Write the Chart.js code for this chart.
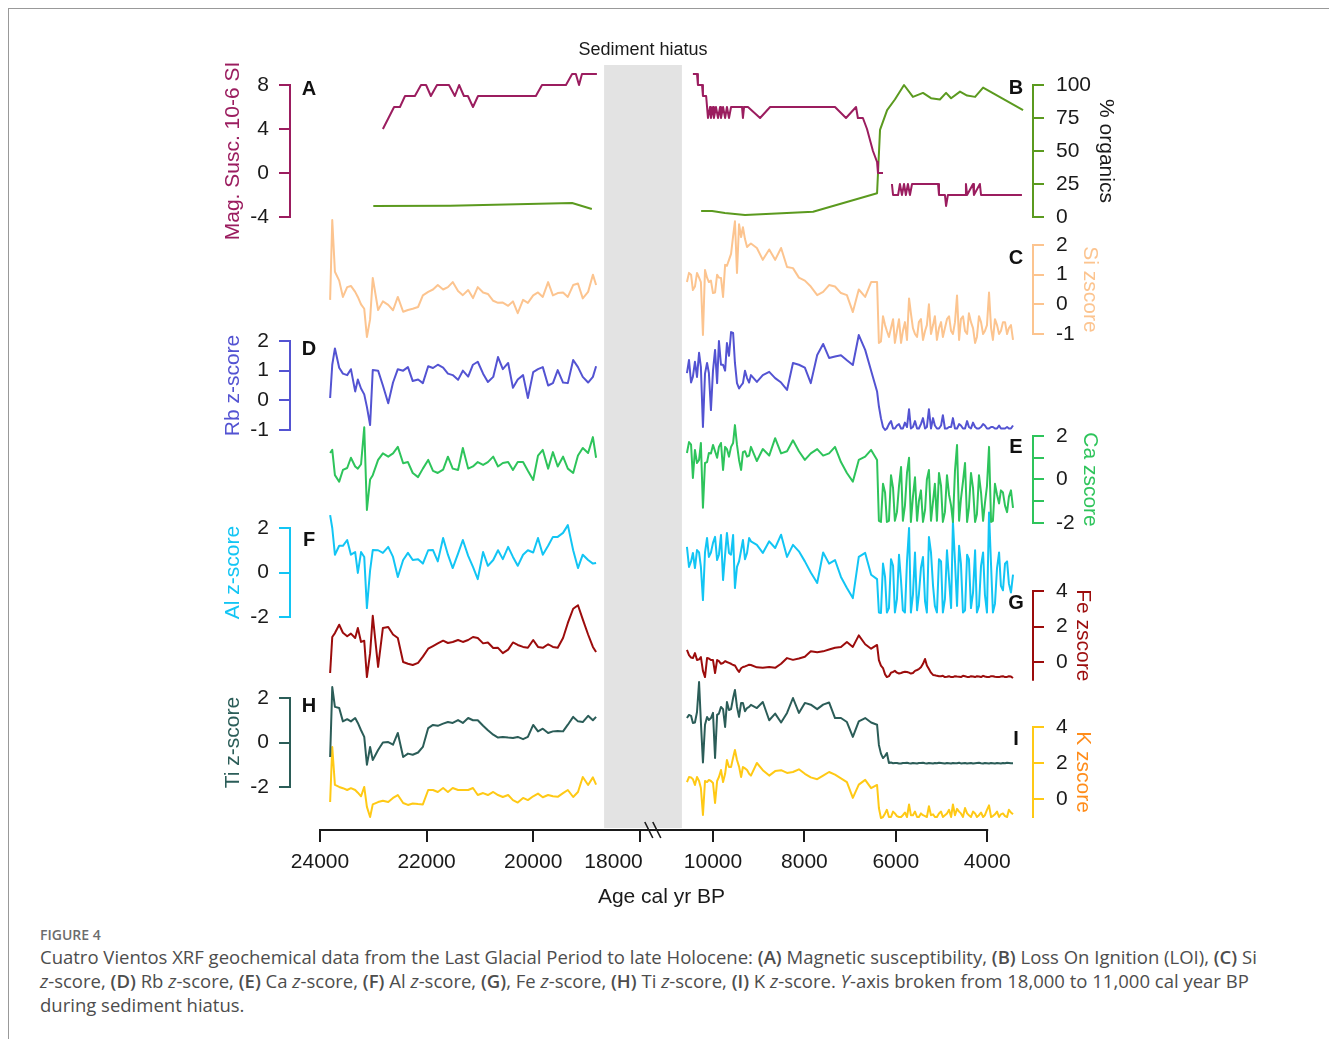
<!DOCTYPE html>
<html>
<head>
<meta charset="utf-8">
<title>Cuatro Vientos XRF</title>
<script src="https://cdn.jsdelivr.net/npm/chart.js@4.4.1/dist/chart.umd.min.js"></script>
<style>
  html, body { margin: 0; padding: 0; background: #fff; }
  #page { position: relative; width: 1329px; height: 1039px; overflow: hidden; }
  #frame { position: absolute; left: 8px; top: 8px; right: 0; bottom: 0; border-top: 1px solid #999; border-left: 1px solid #999; }
  #chart { position: absolute; left: 0; top: 0; }
  #figlabel { position: absolute; left: 40px; top: 925px; font: 600 14px 'Open Sans', sans-serif; color: #6d6d6d; }
  #caption { position: absolute; left: 40px; top: 945px; font: 18.5px/24px 'Open Sans', sans-serif; color: #4d4d4d; white-space: nowrap; }
  #caption b { font-weight: 600; }
</style>
</head>
<body>
<div id="page">
  <div id="frame"></div>
  <canvas id="chart" width="1329" height="920"></canvas>
  <div id="figlabel">FIGURE 4</div>
  <div id="caption">Cuatro Vientos XRF geochemical data from the Last Glacial Period to late Holocene: <b>(A)</b> Magnetic susceptibility, <b>(B)</b> Loss On Ignition (LOI), <b>(C)</b> Si<br><i>z</i>-score, <b>(D)</b> Rb <i>z</i>-score, <b>(E)</b> Ca <i>z</i>-score, <b>(F)</b> Al <i>z</i>-score, <b>(G)</b>, Fe <i>z</i>-score, <b>(H)</b> Ti <i>z</i>-score, <b>(I)</b> K <i>z</i>-score. <i>Y</i>-axis broken from 18,000 to 11,000 cal year BP<br>during sediment hiatus.</div>
</div>
<script>
const FONT = "'Liberation Sans', Arial, sans-serif"

// x axis (age cal yr BP), broken between 18000 and 10000
const xTickAges = [24000, 22000, 20000, 18000, 10000, 8000, 6000, 4000]
const xTickLabels = ['24000', '22000', '20000', '18000         ', '10000', '8000', '6000', '4000']
const hiatusAges = [18670, 10680]

// tick values of each panel axis
const magTicks = [8, 4, 0, -4]
const loiTicks = [100, 75, 50, 25, 0]
const siTicks = [2, 1, 0, -1]
const rbTicks = [2, 1, 0, -1]
const caTicks = [2, 1, 0, -1, -2]
const caLabels = [2, 0, -2]
const alTicks = [2, 0, -2]
const feTicks = [4, 2, 0]
const tiTicks = [2, 0, -2]
const kTicks = [4, 2, 0]

// A - magnetic susceptibility (null = break)
const magAge = [22820, 22610, 22500, 22405, 22220, 22105, 22010, 21920, 21805, 21580, 21470, 21390, 21300, 21225, 21130, 21035, 19950, 19835, 19385, 19270, 19200, 19140, 19085, 18805,
  18000,
  10440, 10350, 10330, 10240, 10220, 10150, 10110, 10065, 10045, 10000, 9980, 9935, 9890, 9845, 9825, 9780, 9735, 9695, 9650, 9605, 9560, 9365, 9345, 9320, 9235, 8970, 8750, 7330, 7090, 6870, 6830, 6720, 6630, 6565, 6500, 6410, 6390, 6280,
  6180,
  6085, 6060, 5950, 5910, 5865, 5820, 5780, 5735, 5690, 5645, 5075, 5055, 4925, 4900, 4880, 4860, 4485, 4465, 4440, 4310, 4290, 4160, 4135, 3240]
const magVal = [4, 6, 6, 7, 7, 8, 8, 7, 8, 8, 7, 8, 7, 7, 6, 7, 7, 8, 8, 9, 9, 8, 9, 9,
  null,
  9, 9, 8, 8, 7, 7, 5, 6, 5, 6, 5, 6, 5, 6, 5, 6, 5, 6, 5, 6, 6, 6, 5, 6, 6, 5, 6, 6, 5, 6, 5, 5, 4, 3, 2, 1, 0, 0,
  null,
  -1, -2, -2, -1, -2, -1, -2, -1, -2, -1, -1, -2, -2, -3, -3, -2, -2, -1, -2, -1, -2, -1, -2, -2]

// B - loss on ignition, % organics
const loiAge = [23000, 21560, 19270, 18900, 18000, 10260, 10020, 9740, 9300, 7810, 6410, 6345, 6190, 6020, 5820, 5625, 5405, 5230, 5035, 4900, 4790, 4595, 4440, 4265, 4090, 3215]
const loiVal = [8.3, 8.5, 10.6, 6, null, 4.5, 4.5, 3, 1.5, 4, 18, 66, 81, 89, 100, 91, 94, 90, 89, 94, 90, 95, 92, 91, 98, 81]

// XRF sample ages, before and after the hiatus
const ageOld = [23810, 23770, 23720, 23640, 23570, 23490, 23420, 23340, 23290, 23230, 23170, 23120, 23060, 23010, 22910, 22820, 22720, 22630, 22540, 22440,
  22350, 22260, 22160, 22070, 21970, 21880, 21790, 21690, 21600, 21510, 21410, 21320, 21220, 21130, 21040, 20940, 20850, 20750, 20660, 20570,
  20470, 20380, 20290, 20190, 20100, 20000, 19910, 19820, 19720, 19630, 19540, 19440, 19350, 19250, 19160, 19070, 18970, 18880, 18820]
const ageNew = [
  10570, 10525, 10480, 10440, 10395, 10350, 10305, 10265, 10220, 10175, 10130, 10090, 10045, 10000, 9955, 9910, 9870,
  9825, 9780, 9735, 9695, 9650, 9605, 9560, 9520, 9475, 9430, 9385, 9345, 9300, 9255, 9210, 9170,
  9040, 8910, 8770, 8640, 8510, 8380, 8250, 8120, 7990, 7860, 7720, 7590, 7460, 7330, 7200, 7070, 6940, 6810, 6670, 6540,
  6410, 6370, 6325, 6280, 6235, 6195, 6150, 6105, 6060, 6020, 5975, 5930, 5885, 5845, 5800, 5755, 5710, 5670, 5625, 5580,
  5535, 5495, 5450, 5405, 5360, 5320, 5275, 5230, 5185, 5145, 5100, 5055, 5010, 4970, 4925, 4880, 4835, 4790, 4750, 4705,
  4660, 4615, 4575, 4530, 4485, 4440, 4400, 4355, 4310, 4265, 4225, 4180, 4135, 4090, 4050, 4005, 3960, 3915, 3875, 3830,
  3785, 3740, 3700, 3655, 3610, 3565, 3525, 3480, 3435]

// C - Si z-score
const siOld = [0.15, 2.84, 1.1, 0.8, 0.25, 0.58, 0.62, 0.42, 0.25, 0.0, -0.15, -1.1, -0.5, 0.89, -0.19, 0.1, -0.02, -0.2, 0.25, -0.25,
  -0.19, -0.15, -0.09, 0.3, 0.42, 0.5, 0.65, 0.5, 0.58, 0.75, 0.45, 0.31, 0.48, 0.21, 0.58, 0.4, 0.35, 0.12, 0.05, 0.06,
  -0.05, 0.1, -0.3, 0.15, 0.05, 0.3, 0.4, 0.25, 0.75, 0.3, 0.38, 0.4, 0.25, 0.65, 0.7, 0.2, 0.42, 1.0, 0.65]
const siNew = [
  0.75, 1.06, 1.0, 0.48, 0.6, 1.06, 0.9, 0.75, -1.03, 1.16, 0.9, 0.75, 0.8, 0.38, 0.4, 1.0,
  0.9, 0.89, 0.25, 1.33, 1.3, 1.5, 1.7, 2.3, 2.8, 1.06, 2.7, 2.27, 2.6, 2.2, 1.93, 2.0, 2.05,
  1.9, 1.5, 1.85, 1.5, 1.9, 1.26, 1.22, 0.9, 0.8, 0.6, 0.31, 0.42, 0.65, 0.6, 0.38, 0.31, -0.26, 0.5, 0.25, 0.75,
  0.75, -1.3, -1.25, -0.4, -0.7, -0.9, -1.1, -0.8, -0.5, -1.3, -0.9, -0.5, -1.3, -0.9, -0.6, -1.2, 0.2, -0.3, -0.8, -1.0,
  -1.1, -0.6, -0.5, -1.2, -0.9, -0.7, 0.0, -1.0, -0.7, -0.4, -1.2, -0.8, -0.6, -1.1, -0.8, -0.5, -0.4, -0.9, -1.0, -0.6,
  0.3, -1.2, -0.5, -0.4, -0.9, -1.0, -0.3, -0.6, -0.8, -1.3, -1.1, -0.4, -0.6, -1.0, -0.9, -0.7, 0.4, -0.8, -1.2, -0.5,
  -0.7, -1.0, -0.9, -0.6, -0.6, -1.0, -0.8, -0.7, -1.2]

// D - Rb z-score
const rbOld = [0.08, 1.2, 1.75, 1.1, 0.9, 0.85, 1.05, 0.3, 0.7, 0.4, 0.2, -0.22, -0.83, 1.02, 1.0, 0.5, -0.1, 0.6, 1.05, 1.0,
  1.12, 0.65, 0.7, 0.58, 1.15, 1.09, 1.2, 1.1, 0.9, 0.85, 0.69, 1.0, 0.8, 1.2, 1.3, 0.9, 0.62, 0.79, 1.46, 1.05,
  1.26, 0.42, 0.7, 0.85, 0.08, 0.95, 1.05, 1.12, 0.5, 0.58, 1.02, 0.6, 0.58, 1.36, 1.12, 0.79, 0.6, 0.79, 1.15]
const rbNew = [
  0.92, 1.36, 0.6, 0.8, 1.3, 0.79, 1.6, 1.12, -0.9, 0.9, 1.26, 0.92, -0.33, 1.0, 1.7, 0.58,
  2.0, 1.2, 1.2, 1.0, 1.93, 1.5, 2.3, 2.27, 1.26, 0.58, 0.4, 0.5, 0.58, 1.0, 0.75, 0.6, 0.85,
  0.62, 0.85, 0.96, 0.75, 0.6, 0.35, 1.26, 1.2, 1.1, 0.58, 1.53, 1.9, 1.43, 1.48, 1.52, 1.35, 1.19, 2.2, 1.7, 1.0,
  0.3, -0.2, -0.6, -0.9, -1.0, -0.95, -0.8, -0.7, -0.95, -0.95, -0.85, -0.8, -0.95, -0.95, -0.75, -0.9, -0.3, -0.95, -0.9, -0.7,
  -0.95, -0.95, -0.8, -0.6, -0.95, -0.9, -0.3, -0.95, -0.6, -0.85, -0.95, -0.95, -0.85, -0.5, -0.95, -0.95, -0.9, -0.9, -0.6, -0.95,
  -0.95, -0.8, -0.85, -0.95, -0.95, -0.7, -0.9, -0.95, -0.75, -0.9, -0.95, -0.95, -0.9, -0.8, -0.85, -0.95, -0.95, -0.9, -0.9, -0.95,
  -0.95, -0.85, -0.95, -0.95, -0.95, -0.9, -0.95, -0.95, -0.85]

// E - Ca z-score
const caOld = [1.22, 1.36, 0.2, -0.1, 0.44, 0.53, 1.0, 0.6, 0.5, 0.7, 2.4, -1.4, 0.0, 0.2, 0.9, 1.2, 1.05, 1.2, 1.5, 0.75,
  0.8, 0.3, 0.11, 0.5, 0.9, 0.4, 0.3, 0.45, 1.05, 0.5, 0.44, 1.45, 0.5, 0.6, 0.8, 0.67, 0.8, 1.05, 0.6, 0.76,
  0.8, 0.44, 0.8, 0.8, 0.4, -0.02, 1.1, 1.36, 0.5, 1.26, 0.6, 1.05, 0.5, 0.3, 1.1, 1.45, 1.22, 1.95, 1.0]
const caNew = [
  1.22, 1.72, 1.6, 0.07, 1.36, 0.76, 0.9, 1.68, -1.3, 0.76, 0.8, 1.22, 1.2, 1.59, 1.3, 1.0,
  1.5, 1.68, 0.44, 1.5, 1.4, 1.05, 1.5, 1.68, 2.5, 1.59, 0.9, 0.44, 1.26, 1.3, 1.05, 1.1, 1.5,
  0.85, 1.4, 1.1, 1.9, 1.2, 1.3, 1.8, 1.3, 0.9, 1.2, 1.4, 1.1, 1.2, 1.5, 0.8, 0.3, -0.1, 0.9, 1.05, 1.36,
  0.9, -1.9, -1.95, -0.2, -0.6, -1.95, -1.9, 0.2, -0.4, -1.9, -1.5, -0.3, 0.58, -1.9, -1.2, 0.3, 1.0, -1.95, -0.8, 0.1,
  -1.9, -1.0, -0.5, -1.95, -1.4, 0.0, 0.44, -1.9, -1.0, -0.2, -1.9, 0.3, -0.3, -1.95, -1.5, 0.2, -0.7, -1.2, -1.95, 0.4,
  1.59, -1.9, -0.9, -0.1, 0.76, -1.95, -1.3, 0.3, -0.4, -1.95, -1.6, 0.2, -0.6, -1.9, -1.1, -0.3, 1.5, -1.95, -1.9, -0.2,
  -0.7, -1.1, -0.5, -0.6, -1.2, -1.5, -0.8, -0.5, -1.3]

// F - Al z-score
const alOld = [2.58, 2.0, 0.8, 1.2, 1.2, 1.46, 0.8, 0.92, -0.02, 0.92, 0.7, -1.6, 0.1, 1.01, 1.0, 0.88, 1.15, 0.7, -0.2, 0.56,
  0.88, 0.56, 0.6, 0.4, 1.0, 1.01, 0.5, 1.55, 0.8, 0.2, 0.85, 1.46, 0.75, 0.25, -0.3, 0.92, 0.3, 0.56, 1.0, 0.6,
  1.15, 0.7, 0.3, 0.8, 1.0, 0.9, 1.55, 0.8, 1.2, 1.6, 1.6, 1.78, 2.13, 1.0, 0.2, 0.8, 0.56, 0.4, 0.43]
const alNew = [
  1.15, 0.25, 0.5, 0.88, 0.2, 1.01, 0.9, 0.25, -1.24, 0.9, 1.55, 0.7, 0.9, 1.33, 1.6, 0.56,
  0.8, 1.69, -0.34, 0.8, 1.78, 0.88, 0.8, 1.69, -0.7, 0.25, 0.5, 1.0, 1.46, 0.6, 0.88, 1.55, 1.4,
  1.24, 0.88, 1.4, 1.1, 1.7, 0.7, 1.24, 0.95, 0.5, 0.0, -0.47, 0.9, 0.4, 0.56, -0.2, -0.7, -1.15, 0.7, 0.88, -0.1,
  -0.3, -1.8, -1.82, 0.4, -0.2, -1.8, -1.6, 0.6, 0.3, -1.8, -1.2, 0.8, -0.4, -1.7, -1.8, 0.5, 2.0, -1.8, -1.0, 0.9,
  -1.7, -1.0, 0.2, 0.7, -1.3, -1.8, 1.6, 0.9, -0.6, -1.5, -1.8, 0.6, 0.5, -1.8, -1.2, 1.0, -0.3, -1.6, 2.3, 0.5,
  -1.5, 1.2, 0.4, -1.8, -1.7, 0.8, 0.6, -1.6, -0.9, 1.0, -1.8, -1.5, 0.3, 0.9, -1.0, -1.8, 2.7, 0.3, -1.8, -1.4,
  0.2, 0.9, -0.6, -0.8, 0.4, 0.5, -0.5, -0.9, -0.1]

// G - Fe z-score
const feOld = [-0.62, 1.41, 1.63, 2.1, 1.65, 1.45, 1.6, 1.35, 1.92, 1.13, 1.2, -0.85, 0.5, 2.6, -0.28, 1.92, 1.97, 1.55, 1.35, 0.0,
  -0.1, -0.17, -0.05, 0.3, 0.75, 0.9, 1.05, 1.2, 1.07, 1.13, 1.24, 1.13, 1.24, 1.41, 1.35, 1.05, 1.1, 0.79, 0.8, 0.5,
  0.7, 1.1, 0.96, 0.85, 0.8, 1.24, 0.85, 0.8, 1.0, 0.85, 0.8, 1.35, 2.2, 3.0, 3.2, 2.4, 1.55, 0.85, 0.56]
const feNew = [
  0.68, 0.39, 0.25, 0.22, 0.5, 0.11, 0.15, 0.28, -0.5, -0.85, 0.22, 0.2, 0.11, 0.11, -0.62, 0.11,
  0.05, -0.1, -0.06, 0.05, 0.0, -0.05, -0.1, -0.17, -0.2, -0.4, -0.56, -0.35, -0.28, -0.25, -0.2, -0.15, -0.17,
  -0.3, -0.32, -0.28, -0.33, -0.1, 0.22, 0.12, 0.2, 0.3, 0.6, 0.55, 0.6, 0.7, 0.8, 0.85, 1.13, 0.85, 1.5, 1.0, 0.75,
  0.96, 0.11, -0.2, -0.34, -0.7, -0.85, -0.8, -0.6, -0.56, -0.5, -0.6, -0.65, -0.62, -0.58, -0.55, -0.56, -0.6, -0.65, -0.62, -0.5,
  -0.45, -0.4, -0.3, -0.1, 0.17, -0.2, -0.4, -0.6, -0.73, -0.75, -0.78, -0.8, -0.8, -0.78, -0.85, -0.83, -0.8, -0.85, -0.85, -0.8,
  -0.82, -0.83, -0.85, -0.78, -0.8, -0.84, -0.85, -0.8, -0.82, -0.85, -0.8, -0.82, -0.85, -0.78, -0.82, -0.84, -0.85, -0.8, -0.8, -0.83,
  -0.85, -0.85, -0.82, -0.8, -0.85, -0.84, -0.8, -0.82, -0.9]

// H - Ti z-score
const tiOld = [-0.65, 2.49, 1.6, 1.55, 0.95, 1.05, 0.95, 1.1, 0.88, 0.55, 0.25, -1.0, -0.2, -0.79, -0.34, 0.0, 0.02, -0.1, 0.43, -0.65,
  -0.5, -0.55, -0.45, -0.2, 0.65, 0.79, 0.75, 0.85, 0.92, 0.88, 1.01, 0.88, 1.1, 1.0, 1.0, 0.75, 0.55, 0.35, 0.22, 0.25,
  0.22, 0.2, 0.25, 0.15, 0.25, 0.79, 0.5, 0.62, 0.43, 0.5, 0.52, 0.5, 0.8, 1.15, 0.95, 0.92, 1.2, 1.0, 1.15]
const tiNew = [
  1.1, 1.24, 1.2, 0.88, 0.9, 1.37, 2.72, 0.92, -0.9, 0.8, 1.15, 1.01, 1.1, 1.33, -0.7, 1.24,
  1.3, 1.6, 1.5, 0.7, 1.82, 1.46, 1.5, 2.0, 2.36, 1.6, 1.15, 1.78, 1.78, 1.4, 1.55, 1.6, 1.69,
  1.55, 1.82, 1.0, 1.3, 0.9, 1.33, 2.0, 1.33, 1.78, 1.7, 1.5, 1.7, 1.8, 1.1, 1.1, 0.92, 0.25, 0.95, 1.1, 0.9,
  0.8, -0.11, -0.5, -0.7, -0.6, -0.47, -0.92, -0.9, -0.93, -0.92, -0.92, -0.94, -0.94, -0.92, -0.92, -0.91, -0.93, -0.94, -0.92, -0.93,
  -0.94, -0.92, -0.92, -0.91, -0.93, -0.94, -0.92, -0.93, -0.94, -0.92, -0.93, -0.91, -0.92, -0.93, -0.94, -0.92, -0.93, -0.94, -0.92, -0.93,
  -0.93, -0.91, -0.94, -0.93, -0.92, -0.94, -0.93, -0.92, -0.94, -0.93, -0.92, -0.91, -0.93, -0.94, -0.92, -0.93, -0.94, -0.92, -0.93, -0.94,
  -0.92, -0.93, -0.94, -0.92, -0.93, -0.91, -0.92, -0.93, -0.93]

// I - K z-score
const kOld = [-0.17, 2.89, 0.78, 0.67, 0.6, 0.5, 0.6, 0.5, 0.35, 0.15, 0.67, -0.44, -1.0, -0.3, -0.17, -0.1, -0.17, 0.06, 0.22, -0.22,
  -0.33, -0.25, -0.28, -0.3, 0.5, 0.5, 0.39, 0.61, 0.39, 0.61, 0.5, 0.5, 0.5, 0.61, 0.22, 0.33, 0.22, 0.39, 0.22, 0.11,
  0.22, -0.06, -0.2, 0.06, -0.06, 0.15, 0.3, 0.1, 0.22, 0.15, 0.12, 0.33, 0.5, 0.11, 0.39, 1.22, 0.78, 1.2, 0.8]
const kNew = [
  0.94, 1.22, 1.2, 1.1, 0.78, 1.22, 1.0, 0.61, -0.89, 1.0, 0.94, 1.06, 1.0, 0.89, -0.22, 1.0,
  1.22, 1.61, 0.94, 1.4, 2.17, 1.78, 1.78, 2.3, 2.72, 2.17, 1.8, 1.22, 1.78, 1.7, 1.61, 1.4, 1.3,
  2.0, 1.6, 1.3, 1.55, 1.6, 1.45, 1.5, 1.65, 1.4, 1.2, 1.1, 1.3, 1.5, 1.35, 1.15, 0.94, 0.06, 0.8, 1.06, 0.6,
  0.78, -0.5, -1.06, -1.0, -0.8, -0.6, -1.0, -1.0, -0.7, -0.8, -0.95, -1.0, -1.0, -0.9, -0.75, -1.0, -0.3, -0.9, -0.9, -0.7,
  -1.0, -1.0, -0.8, -0.9, -0.95, -1.0, -0.4, -0.9, -0.85, -1.0, -1.0, -0.8, -0.7, -1.0, -0.9, -0.8, -0.6, -1.0, -0.3, -0.9,
  -0.55, -0.7, -0.8, -1.0, -0.5, -0.8, -0.9, -1.0, -0.7, -0.8, -1.0, -0.9, -0.75, -1.0, -0.9, -0.6, -0.35, -1.0, -0.95, -0.85,
  -0.7, -1.0, -0.85, -0.8, -0.95, -1.0, -0.6, -0.75, -0.85]

// broken axis: each side has its own scale (units are px from the 24000 tick)
function toX(age) {
  if (age >= 14000) return (24000 - age) * 0.0533
  return 393 + (10000 - age) * 0.0457
}

function points(ages, vals) {
  return ages.map((a, i) => ({ x: toX(a), y: vals[i] }))
}

function joined(oldVals, newVals) {
  return points(ageOld, oldVals).concat([{ x: toX(18000), y: null }], points(ageNew, newVals))
}

// chart area runs from y=30 to y=830, each panel gets its own band
const AREA_TOP = 30
const AREA_BOTTOM = 830

const panels = [
  { id: 'yA', side: 'left', vTop: 8, pTop: 85, vBot: -4, pBot: 217, ticks: magTicks, labels: magTicks, span: [8, -4], color: '#9b1d5f', title: 'Mag. Susc. 10-6 SI', titleColor: '#9b1d5f', letter: 'A', letterAt: 7.6 },
  { id: 'yB', side: 'right', vTop: 100, pTop: 85, vBot: 0, pBot: 217, ticks: loiTicks, labels: loiTicks, span: [100, 0], color: '#5b9a1f', title: '% organics', titleColor: '#1a1a1a', letter: 'B', letterAt: 97 },
  { id: 'yC', side: 'right', vTop: 2, pTop: 245, vBot: -1, pBot: 334, ticks: siTicks, labels: siTicks, span: [2, -1], color: '#fcc48f', title: 'Si zscore', titleColor: '#fcc48f', letter: 'C', letterAt: 1.53 },
  { id: 'yD', side: 'left', vTop: 2, pTop: 341, vBot: -1, pBot: 430, ticks: rbTicks, labels: rbTicks, span: [2, -1], color: '#5353d2', title: 'Rb z-score', titleColor: '#5353d2', letter: 'D', letterAt: 1.7 },
  { id: 'yE', side: 'right', vTop: 2, pTop: 436, vBot: -2, pBot: 523, ticks: caTicks, labels: caLabels, span: [2, -2], color: '#2ec45b', title: 'Ca zscore', titleColor: '#2ec45b', letter: 'E', letterAt: 1.45 },
  { id: 'yF', side: 'left', vTop: 2, pTop: 528, vBot: -2, pBot: 617, ticks: alTicks, labels: alTicks, span: [2, -2], color: '#12c5f4', title: 'Al z-score', titleColor: '#12c5f4', letter: 'F', letterAt: 1.42 },
  { id: 'yG', side: 'right', vTop: 4, pTop: 591, vBot: 0, pBot: 662, ticks: feTicks, labels: feTicks, span: [4, -1], color: '#9c0c0c', title: 'Fe zscore', titleColor: '#9c0c0c', letter: 'G', letterAt: 3.27 },
  { id: 'yH', side: 'left', vTop: 2, pTop: 698, vBot: -2, pBot: 787, ticks: tiTicks, labels: tiTicks, span: [2, -2], color: '#2b5d58', title: 'Ti z-score', titleColor: '#2b5d58', letter: 'H', letterAt: 1.64 },
  { id: 'yI', side: 'right', vTop: 4, pTop: 727, vBot: 0, pBot: 799, ticks: kTicks, labels: kTicks, span: [4, -1], color: '#ffc915', title: 'K zscore', titleColor: '#ff8c1a', letter: 'I', letterAt: 3.28 }
]

function yScale(p) {
  const s = (p.pBot - p.pTop) / (p.vTop - p.vBot)
  return {
    type: 'linear',
    position: p.side,
    min: p.vBot - (AREA_BOTTOM - p.pBot) / s,
    max: p.vTop + (p.pTop - AREA_TOP) / s,
    afterFit: sc => { sc.width = 0; sc.paddingTop = 0; sc.paddingBottom = 0 },
    afterBuildTicks: sc => { sc.ticks = p.ticks.map(v => ({ value: v })) },
    ticks: {
      autoSkip: false,
      callback: v => p.labels.includes(v) ? String(v) : '',
      color: '#1a1a1a',
      font: { size: 21, family: FONT },
      padding: p.side === 'left' ? 10 : 12
    },
    grid: { drawOnChartArea: false, drawTicks: true, tickLength: 11, color: p.color, lineWidth: 2 },
    border: { display: false }
  }
}

function line(data, axis, color) {
  return { data: data, yAxisID: axis, borderColor: color, borderWidth: 2, pointRadius: 0, tension: 0, fill: false, spanGaps: false, borderJoinStyle: 'round' }
}

const decorations = {
  id: 'decorations',
  afterLayout(chart) {
    // let the stacked axes' labels draw outside their zero-width boxes
    for (const s of Object.values(chart.scales)) {
      if (s.options.position === 'left') s.left = 0
      if (s.options.position === 'right') s.right = chart.width
    }
  },
  beforeDatasetsDraw(chart) {
    const ctx = chart.ctx
    const x = chart.scales.x
    const area = chart.chartArea
    const x0 = x.getPixelForValue(toX(hiatusAges[0]))
    const x1 = x.getPixelForValue(toX(hiatusAges[1]))
    ctx.save()
    ctx.fillStyle = '#e3e3e3'
    ctx.fillRect(x0, area.top + 35, x1 - x0, x.top - area.top - 37)
    ctx.restore()
  },
  afterDraw(chart) {
    const ctx = chart.ctx
    const x = chart.scales.x
    ctx.save()

    panels.forEach(p => {
      const s = chart.scales[p.id]
      const left = p.side === 'left'
      const ax = left ? s.right : s.left
      const y0 = s.getPixelForValue(p.span[0])
      const y1 = s.getPixelForValue(p.span[1])
      ctx.strokeStyle = p.color
      ctx.lineWidth = 2
      ctx.lineCap = 'square'
      ctx.beginPath()
      ctx.moveTo(ax, y0)
      ctx.lineTo(ax, y1)
      ctx.stroke()

      ctx.font = '21px ' + FONT
      const labelW = Math.max(...p.labels.map(v => ctx.measureText(String(v)).width))
      const tx = left ? ax - 21 - labelW - 17 : ax + 23 + labelW + 15
      ctx.save()
      ctx.translate(tx, (y0 + y1) / 2)
      ctx.rotate(left ? -Math.PI / 2 : Math.PI / 2)
      ctx.fillStyle = p.titleColor
      ctx.textAlign = 'center'
      ctx.textBaseline = 'middle'
      ctx.fillText(p.title, 0, 0)
      ctx.restore()

      ctx.font = 'bold 20px ' + FONT
      ctx.fillStyle = '#111'
      ctx.textAlign = 'center'
      ctx.textBaseline = 'middle'
      ctx.fillText(p.letter, left ? ax + 19 : ax - 17, s.getPixelForValue(p.letterAt))
    })

    // x axis line from first to last tick, with the break marks
    const xa = x.getPixelForValue(toX(xTickAges[0]))
    const xb = x.getPixelForValue(toX(xTickAges[xTickAges.length - 1]))
    ctx.strokeStyle = '#1a1a1a'
    ctx.lineWidth = 2
    ctx.lineCap = 'butt'
    ctx.beginPath()
    ctx.moveTo(xa - 1, x.top)
    ctx.lineTo(xb + 1, x.top)
    ctx.stroke()
    const bx = x.getPixelForValue(toX(18000))
    ctx.lineWidth = 1.6
    ctx.beginPath()
    for (const d of [9, 17]) {
      ctx.moveTo(bx + d - 4, x.top - 8)
      ctx.lineTo(bx + d + 4, x.top + 8)
    }
    ctx.stroke()

    // hiatus label
    const hx = (x.getPixelForValue(toX(hiatusAges[0])) + x.getPixelForValue(toX(hiatusAges[1]))) / 2
    ctx.font = '18px ' + FONT
    ctx.fillStyle = '#1a1a1a'
    ctx.textAlign = 'center'
    ctx.textBaseline = 'middle'
    ctx.fillText('Sediment hiatus', hx, chart.chartArea.top + 20)
    ctx.restore()
  }
}

const scales = {
  x: {
    type: 'linear',
    position: 'bottom',
    min: -30,
    max: 713,
    afterFit: sc => { sc.height = 90; sc.paddingLeft = 0; sc.paddingRight = 0 },
    afterBuildTicks: sc => { sc.ticks = xTickAges.map(a => ({ value: toX(a) })) },
    ticks: {
      autoSkip: false,
      maxRotation: 0,
      minRotation: 0,
      callback: (v, i) => xTickLabels[i],
      color: '#1a1a1a',
      font: { size: 21, family: FONT },
      padding: 8
    },
    grid: { drawOnChartArea: false, drawTicks: true, tickLength: 12, color: '#1a1a1a', lineWidth: 2 },
    border: { display: false },
    title: { display: true, text: 'Age cal yr BP', color: '#1a1a1a', font: { size: 21, family: FONT }, padding: { top: 4, bottom: 10 } }
  }
}
panels.forEach(p => { scales[p.id] = yScale(p) })

new Chart(document.getElementById('chart').getContext('2d'), {
  type: 'line',
  data: {
    datasets: [
      line(points(magAge, magVal), 'yA', '#9b1d5f'),
      line(points(loiAge, loiVal), 'yB', '#5b9a1f'),
      line(joined(siOld, siNew), 'yC', '#fcc48f'),
      line(joined(rbOld, rbNew), 'yD', '#5353d2'),
      line(joined(caOld, caNew), 'yE', '#2ec45b'),
      line(joined(alOld, alNew), 'yF', '#12c5f4'),
      line(joined(feOld, feNew), 'yG', '#9c0c0c'),
      line(joined(tiOld, tiNew), 'yH', '#2b5d58'),
      line(joined(kOld, kNew), 'yI', '#ffc915')
    ]
  },
  options: {
    responsive: false,
    animation: false,
    devicePixelRatio: 1,
    layout: { autoPadding: false, padding: { left: 290, right: 296, top: AREA_TOP, bottom: 0 } },
    plugins: { legend: { display: false }, tooltip: { enabled: false } },
    scales: scales
  },
  plugins: [decorations]
})
</script>
</body>
</html>
